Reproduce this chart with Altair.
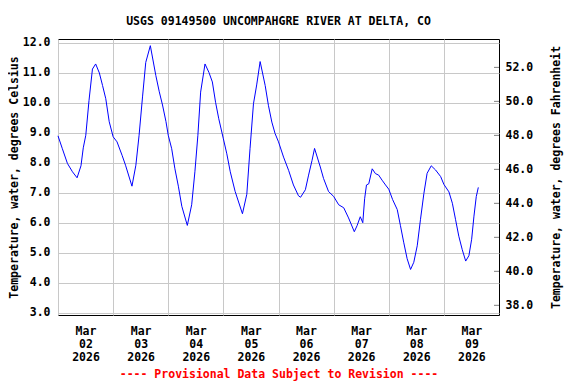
import altair as alt
import pandas as pd

# hours since 2026-03-02 00:00 and water temperature (deg C)
hours = [
    0, 1.9, 4.1, 6.3, 8.3, 10, 11, 12.1, 13.5, 15,
    16.4, 18, 19.4, 20.8, 22.3, 24, 25.7, 27.9, 29.4, 32.2,
    33.9, 35.3, 36.8, 38.2, 40.2, 42.6, 44.1, 45.5, 47, 48,
    49.5, 50.9, 52.4, 53.9, 56.3, 58.2, 59.6, 60.9, 62.1, 64,
    65.7, 67.2, 68.6, 70, 72, 73.5, 75, 77.1, 80.3, 82.2, 83.6,
    85.1, 86.5, 88, 90.2, 91.6, 93.1, 94.5, 96, 98.2, 100.4,
    102.5, 104.7, 105.6, 107.7, 109.1, 110.6, 111.7, 114.2, 115.6, 117.8,
    120, 122.2, 124.4, 126.5, 129, 130.2, 131.6, 132.7, 133.5, 134.3,
    135.3, 136.8, 138.2, 139.6, 141.1, 142.6, 144, 145.7, 147.7, 149.1,
    150.5, 152, 153.5, 154.9, 156.4, 157.8, 159.3, 160.7, 162.5, 164.4,
    166.6, 168, 170.2, 171.7, 173.1, 174.5, 176, 177.5, 178.9, 180.1,
    181.1, 182.1, 183,
]
temp_c = [
    8.9, 8.47, 7.98, 7.7, 7.5, 7.9, 8.5, 8.92, 10.08, 11.13,
    11.3, 11.0, 10.58, 10.14, 9.37, 8.87, 8.7, 8.25, 7.92, 7.22,
    7.92, 8.92, 10.2, 11.35, 11.91, 10.91, 10.37, 9.93, 9.38, 8.92,
    8.47, 7.8, 7.22, 6.55, 5.91, 6.6, 7.7, 8.92, 10.36, 11.3,
    11.02, 10.7, 10.02, 9.47, 8.8, 8.3, 7.7, 7.05, 6.3, 6.95, 8.47,
    9.97, 10.6, 11.38, 10.58, 9.92, 9.36, 8.98, 8.7, 8.19, 7.75,
    7.26, 6.9, 6.85, 7.1, 7.59, 8.08, 8.48, 7.86, 7.48, 7.04,
    6.88, 6.6, 6.5, 6.16, 5.7, 5.9, 6.2, 6.0, 6.8, 7.26,
    7.3, 7.8, 7.64, 7.59, 7.42, 7.26, 7.12, 6.77, 6.44, 5.9,
    5.35, 4.8, 4.44, 4.68, 5.23, 6.1, 6.98, 7.65, 7.9, 7.76,
    7.54, 7.28, 7.03, 6.65, 6.1, 5.55, 5.1, 4.72, 4.9, 5.45,
    6.22, 6.87, 7.18,
]
tick_days = [2, 3, 4, 5, 6, 7, 8, 9]
c_ticks = [3, 4, 5, 6, 7, 8, 9, 10, 11, 12]
f_ticks = [38, 40, 42, 44, 46, 48, 50, 52]

title_text = "USGS 09149500 UNCOMPAHGRE RIVER AT DELTA, CO"
left_title = "Temperature, water, degrees Celsius"
right_title = "Temperature, water, degrees Fahrenheit"
note_text = "---- Provisional Data Subject to Revision ----"

start = pd.Timestamp("2026-03-02")
df = pd.DataFrame({"t": start + pd.to_timedelta(hours, unit="h"), "c": temp_c})
df_f = pd.DataFrame({"f": f_ticks})

FONT = "DejaVu Sans Mono"
FS = 11.5
GRID = "#c8c8c8"

x_axis = alt.Axis(
    values=[alt.DateTime(year=2026, month=3, date=d) for d in tick_days],
    labelExpr="[timeFormat(datum.value, '%b'), timeFormat(datum.value, '%d'), timeFormat(datum.value, '%Y')]",
    labelOffset=27.5, labelFlush=False, labelOverlap=False,
    labelAlign="center", labelBaseline="top", labelLineHeight=13, labelPadding=10,
    ticks=False, domain=False, grid=True, gridColor=GRID,
    title=note_text, titleColor="#ff0000", titlePadding=6,
)

line = alt.Chart(df).mark_line(color="#0000ff", strokeWidth=1).encode(
    x=alt.X("t:T", axis=x_axis,
            scale=alt.Scale(domain=[alt.DateTime(year=2026, month=3, date=2),
                                    alt.DateTime(year=2026, month=3, date=10)])),
    y=alt.Y("c:Q",
            scale=alt.Scale(domain=[2.92, 12.133], nice=False, zero=False),
            axis=alt.Axis(values=c_ticks, format=".1f", ticks=False, domain=False,
                          grid=True, gridColor=GRID, labelPadding=8,
                          title=left_title, titlePadding=3)),
)

right = alt.Chart(df_f).mark_rule(color="#808080", strokeWidth=1).encode(
    y=alt.Y("f:Q",
            scale=alt.Scale(domain=[37.43, 53.67], nice=False, zero=False),
            axis=alt.Axis(orient="right", values=f_ticks, format=".1f", ticks=False,
                          domain=False, grid=False, labelPadding=6,
                          title=right_title, titleAngle=270, titleBaseline="top",
                          titlePadding=18)),
    x=alt.value(436),
    x2=alt.value(441),
)

chart = alt.layer(line, right).resolve_scale(y="independent").properties(
    width=441, height=276,
    title=alt.TitleParams(title_text, anchor="middle", offset=9),
    autosize=alt.AutoSizeParams(type="none"),
    padding={"left": 50, "top": 31, "right": 68, "bottom": 66},
).configure_view(
    stroke="black", strokeWidth=1
).configure_axis(
    labelFont=FONT, labelFontSize=FS, labelFontWeight="bold", labelColor="black",
    titleFont=FONT, titleFontSize=FS, titleFontWeight="bold", titleColor="black",
).configure_title(
    font=FONT, fontSize=FS, fontWeight="bold", color="black"
)

chart.save("out.html", embed_options={"renderer": "svg", "actions": False})
